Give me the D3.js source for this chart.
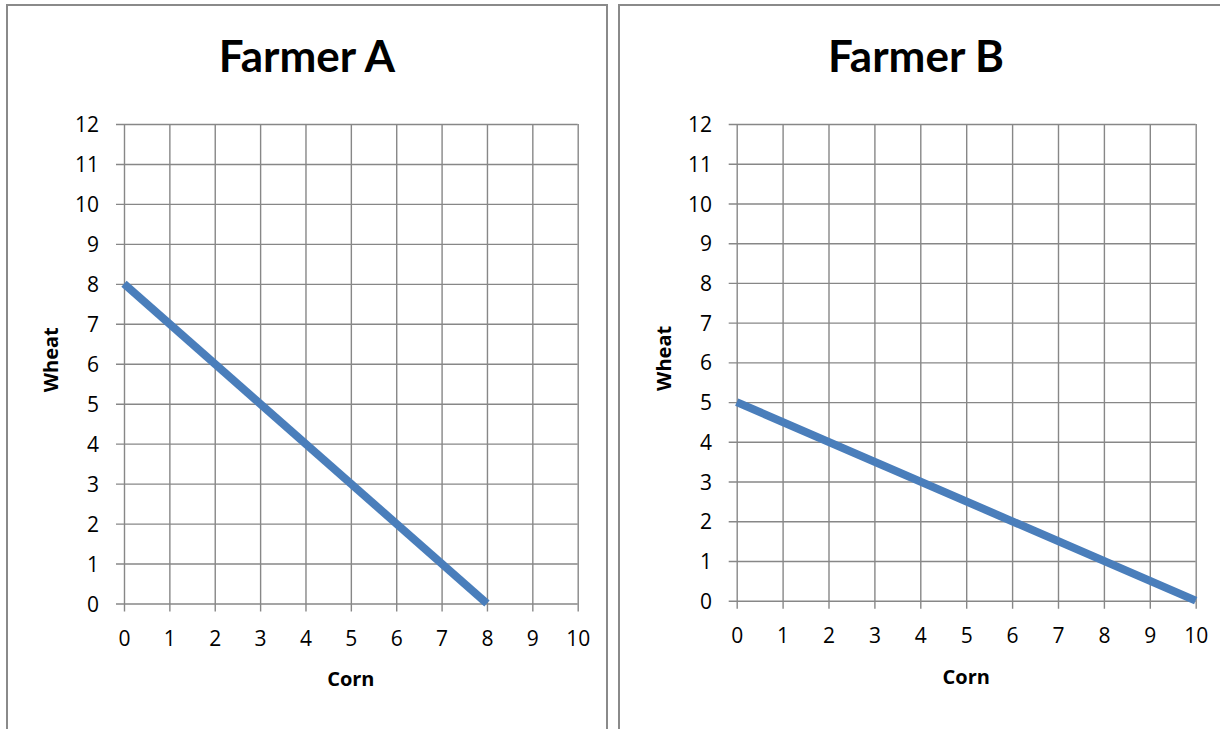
<!DOCTYPE html>
<html>
<head>
<meta charset="utf-8">
<script src="https://cdn.jsdelivr.net/npm/d3@7/dist/d3.min.js"></script>
<style>
  html, body { margin: 0; padding: 0; background: #fff; }
  svg { display: block; }
  text { font-family: Lato, "Open Sans", sans-serif; fill: #000; }
</style>
</head>
<body>
<svg id="chart" width="1220" height="729"></svg>
<script>
// ---- data ----
const titles = ["Farmer A", "Farmer B"];
const xTitle = "Corn";
const yTitle = "Wheat";
const xTicks = [0, 1, 2, 3, 4, 5, 6, 7, 8, 9, 10];
const yTicks = [0, 1, 2, 3, 4, 5, 6, 7, 8, 9, 10, 11, 12];
const farmerACorn = [0, 8];
const farmerAWheat = [8, 0];
const farmerBCorn = [0, 10];
const farmerBWheat = [5, 0];

const svg = d3.select("#chart");

const panels = [
  { title: titles[0], corn: farmerACorn, wheat: farmerAWheat,
    box: { x: 7, y: 5, w: 600, h: 760 },
    plot: { x0: 124, x1: 577.7, y0: 603.5, y1: 124 },
    titleX: 307, titleY: 72, yLabX: 99, yTitleX: 58, xLabY: 646, xTitleY: 686 },
  { title: titles[1], corn: farmerBCorn, wheat: farmerBWheat,
    box: { x: 619, y: 5, w: 620, h: 760 },
    plot: { x0: 736.7, x1: 1195.7, y0: 600.7, y1: 124 },
    titleX: 916, titleY: 72, yLabX: 712, yTitleX: 671, xLabY: 643, xTitleY: 684 }
];

const gridColor = "#878787";
const tickFont = "'Open Sans', Lato, sans-serif";

panels.forEach(p => {
  const g = svg.append("g");
  g.append("rect")
    .attr("x", p.box.x).attr("y", p.box.y)
    .attr("width", p.box.w).attr("height", p.box.h)
    .attr("fill", "none").attr("stroke", "#8a8a8a").attr("stroke-width", 2);

  const x = d3.scaleLinear().domain([0, 10]).range([p.plot.x0, p.plot.x1]);
  const y = d3.scaleLinear().domain([0, 12]).range([p.plot.y0, p.plot.y1]);
  const h = p.plot.y0 - p.plot.y1;
  const w = p.plot.x1 - p.plot.x0;

  // vertical gridlines + x ticks
  const xa = g.append("g")
    .attr("transform", `translate(0,${p.plot.y0})`)
    .call(d3.axisBottom(x).tickValues(xTicks).tickFormat(d3.format("d")).tickSize(8).tickSizeOuter(0));
  xa.select(".domain").remove();
  xa.selectAll(".tick line").attr("y1", -h).attr("y2", 8)
    .attr("stroke", gridColor).attr("stroke-width", 1.4);
  xa.selectAll(".tick text").attr("y", null).attr("dy", null)
    .attr("transform", `translate(0,${p.xLabY - p.plot.y0})`)
    .style("font-size", "21px").style("font-family", tickFont)
    .attr("fill", "#000");

  // horizontal gridlines + y ticks
  const ya = g.append("g")
    .attr("transform", `translate(${p.plot.x0},0)`)
    .call(d3.axisLeft(y).tickValues(yTicks).tickFormat(d3.format("d")).tickSize(8).tickSizeOuter(0));
  ya.select(".domain").remove();
  ya.selectAll(".tick line").attr("x1", -8).attr("x2", w)
    .attr("stroke", gridColor).attr("stroke-width", 1.4);
  ya.selectAll(".tick text").attr("x", p.yLabX - p.plot.x0).attr("dy", "0.36em")
    .style("font-size", "21px").style("font-family", tickFont)
    .attr("fill", "#000");

  // line
  const pts = p.corn.map((c, i) => [c, p.wheat[i]]);
  g.append("path")
    .datum(pts)
    .attr("d", d3.line().x(d => x(d[0])).y(d => y(d[1])))
    .attr("fill", "none").attr("stroke", "#4a7ebb").attr("stroke-width", 8)
    .attr("stroke-linecap", "butt");

  // titles
  g.append("text").attr("x", p.titleX).attr("y", p.titleY)
    .attr("text-anchor", "middle").style("font-size", "44px").style("font-weight", "bold")
    .text(p.title);
  g.append("text").attr("x", (p.plot.x0 + p.plot.x1) / 2).attr("y", p.xTitleY)
    .attr("text-anchor", "middle").style("font-size", "20px").style("font-weight", "bold")
    .style("font-family", tickFont)
    .text(xTitle);
  g.append("text")
    .attr("transform", `translate(${p.yTitleX},${(p.plot.y0 + p.plot.y1) / 2 - 4}) rotate(-90)`)
    .attr("text-anchor", "middle").style("font-size", "20px").style("font-weight", "bold")
    .style("font-family", tickFont)
    .text(yTitle);
});
</script>
</body>
</html>
